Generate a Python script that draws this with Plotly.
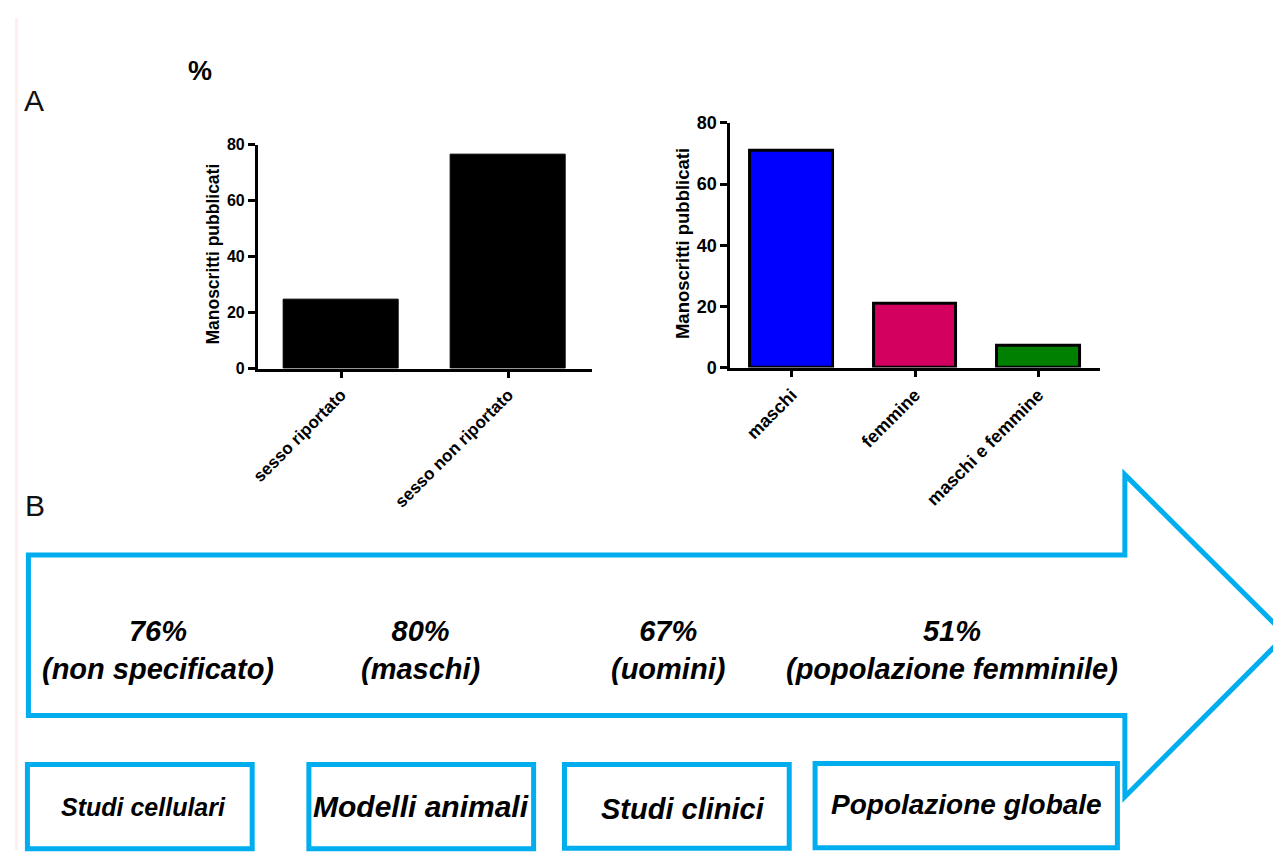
import plotly.graph_objects as go

# ---------------- data ----------------
cat_a = ["sesso riportato", "sesso non riportato"]
val_a = [24.5, 76.5]

cat_b = ["maschi", "femmine", "maschi e femmine"]
val_b = [71, 21, 7]
colors_b = ["#0000FF", "#D3005F", "#008000"]

y_ticks = [0, 20, 40, 60, 80]
y_title = "Manoscritti pubblicati"

arrow_pcts = ["76%", "80%", "67%", "51%"]
arrow_notes = ["(non specificato)", "(maschi)", "(uomini)", "(popolazione femminile)"]
stage_labels = ["Studi cellulari", "Modelli animali", "Studi clinici", "Popolazione globale"]

# ---------------- layout helpers ----------------
# the page body adds an 8px margin, so the figure is sized to fill the rest of the window
OFF = 8
W, H = 1281 - OFF, 868 - 2 * OFF
FONT = "Liberation Sans, Arial, sans-serif"
BLUE = "#00AEEF"
# measured vertical mapping of the captured picture: img_y = Y0 + YS * page_y
Y0, YS = 4.3, 0.9855


def px(x):
    """picture pixel x -> paper fraction"""
    return (x - OFF) / W


def py(y):
    """picture pixel y -> paper fraction"""
    page_y = (y - Y0) / YS
    return 1 - (page_y - OFF) / H


fig = go.Figure()

fig.add_trace(go.Bar(x=cat_a, y=val_a, width=0.69,
                     marker=dict(color="#000000", line=dict(color="#000000", width=1)),
                     xaxis="x", yaxis="y", showlegend=False, hoverinfo="skip"))
fig.add_trace(go.Bar(x=cat_b, y=val_b, width=0.67,
                     marker=dict(color=colors_b, line=dict(color="#000000", width=3)),
                     xaxis="x2", yaxis="y2", showlegend=False, hoverinfo="skip"))

axis_common = dict(showline=True, linecolor="black", linewidth=2.5, ticks="outside",
                   tickcolor="black", tickwidth=2.5, ticklen=7, showgrid=False,
                   zeroline=False, fixedrange=True)

fig.update_layout(
    width=W, height=H,
    margin=dict(l=0, r=0, t=0, b=0),
    paper_bgcolor="white", plot_bgcolor="rgba(0,0,0,0)",
    bargap=0,
    xaxis=dict(domain=[px(252), px(588)], range=[-0.5, 1.5], type="category",
               tickangle=-45, anchor="y",
               tickfont=dict(family=FONT, size=17, color="black", weight="bold"),
               **axis_common),
    yaxis=dict(domain=[py(366), py(140)], range=[0, 80], tickvals=y_ticks, anchor="x",
               tickfont=dict(family=FONT, size=16, color="black", weight="bold"),
               **axis_common),
    xaxis2=dict(domain=[px(727), px(1099)], range=[-0.5, 2.5], type="category",
                tickangle=-45, anchor="y2",
                tickfont=dict(family=FONT, size=18, color="black", weight="bold"),
                **axis_common),
    yaxis2=dict(domain=[py(365), py(118)], range=[0, 80], tickvals=y_ticks, anchor="x2",
                tickfont=dict(family=FONT, size=18, color="black", weight="bold"),
                **axis_common),
)

shapes = []
# pink page border (left strip)
shapes.append(dict(type="rect", xref="paper", yref="paper", x0=0, x1=px(11), y0=0, y1=1,
                   fillcolor="#fdf0ee", line=dict(width=0), layer="below"))

# big arrow outline
pts = [(21.5, 554), (1124, 554), (1124, 473), (1286, 635), (1124, 798), (1124, 716), (21.5, 716)]
path = "M " + " L ".join(f"{px(x):.5f},{py(y):.5f}" for x, y in pts) + " Z"
shapes.append(dict(type="path", xref="paper", yref="paper", path=path,
                   line=dict(color=BLUE, width=5), fillcolor="rgba(0,0,0,0)"))

# stage boxes
boxes = [(20.5, 246.5, 765.5, 850.5), (303.5, 529.5, 765.5, 850.5),
         (560.5, 786.5, 765.5, 850), (812.5, 1116.5, 764.5, 849.5)]
for x0, x1, y0, y1 in boxes:
    shapes.append(dict(type="rect", xref="paper", yref="paper",
                       x0=px(x0), x1=px(x1), y0=py(y1), y1=py(y0),
                       line=dict(color=BLUE, width=5), fillcolor="rgba(0,0,0,0)"))
fig.update_layout(shapes=shapes)

ann = []


def label(text, x, y, size, weight="normal", style="normal", angle=0, color="black"):
    ann.append(dict(text=text, x=px(x), y=py(y), xref="paper", yref="paper", showarrow=False,
                    xanchor="center", yanchor="middle", align="center", textangle=angle,
                    font=dict(family=FONT, size=size, color=color, weight=weight, style=style)))


# panel letters and %
label("A", 27, 95, 30, color="#111")
label("B", 28, 504, 30, color="#111")
label("%", 194, 66, 27, weight="bold")
# axis titles
label(y_title, 207, 250, 17.5, weight="bold", angle=-90)
label(y_title, 679, 240, 18.5, weight="bold", angle=-90)

# arrow texts
arrow_x = [152, 416, 665, 950]
for xc, pct, note in zip(arrow_x, arrow_pcts, arrow_notes):
    label(f"{pct}<br>{note}", xc, 650, 29, weight="bold", style="italic")

# stage box texts
box_text = [(137, 808, 25), (416, 808, 30), (680, 810, 29), (965, 806, 28)]
for (xc, yc, fs), lab in zip(box_text, stage_labels):
    label(lab, xc, yc, fs, weight="bold", style="italic")

fig.update_layout(annotations=ann)

fig.write_html("out.html", config={"displayModeBar": False})
